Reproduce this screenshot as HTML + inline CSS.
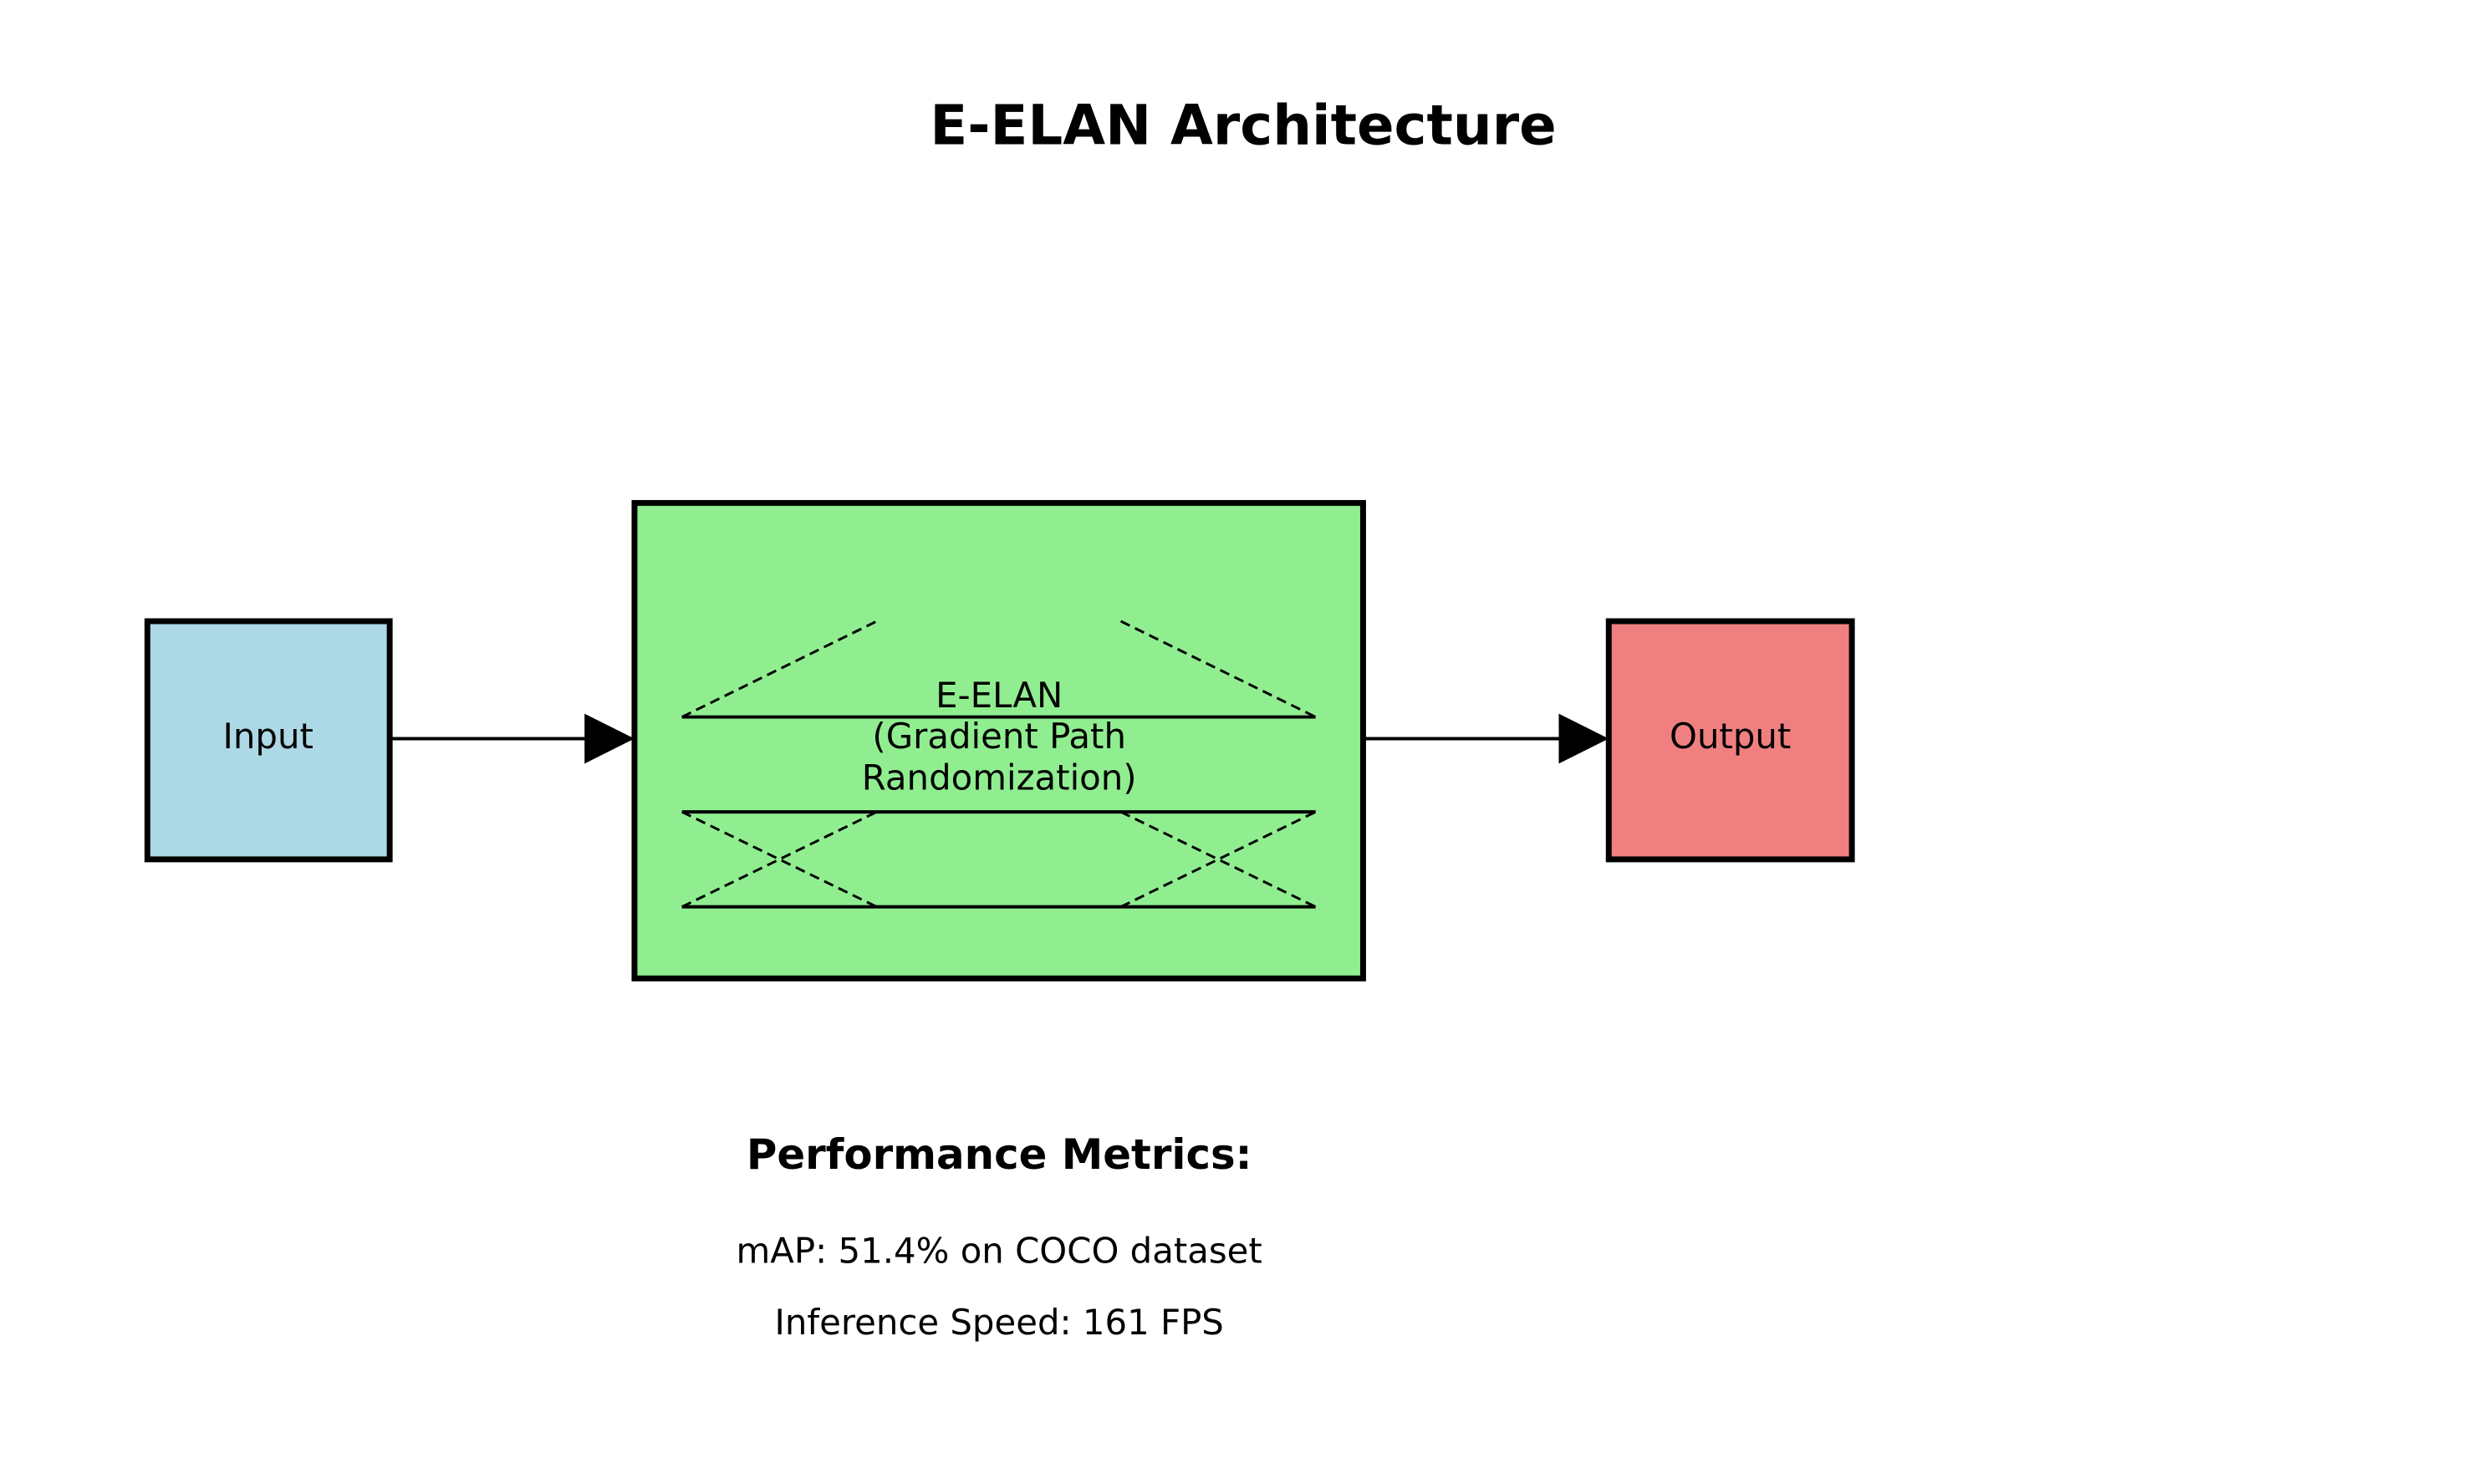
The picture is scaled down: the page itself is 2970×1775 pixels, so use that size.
<!DOCTYPE html>
<html><head><meta charset="utf-8"><style>html,body{margin:0;padding:0;background:#fff}</style></head>
<body>
<svg width="2970" height="1770" viewBox="0 0 2970 1770" xmlns="http://www.w3.org/2000/svg" font-family="DejaVu Sans, sans-serif">
<g transform="scale(0.996)">
<text x="1493" y="155" font-size="66" font-weight="bold" text-anchor="middle" dominant-baseline="middle">E-ELAN Architecture</text>
<rect x="177" y="746" width="291" height="286" fill="#add8e6" stroke="#000" stroke-width="7"/>
<text x="322" y="887" font-size="42" text-anchor="middle" dominant-baseline="middle">Input</text>
<rect x="762" y="604" width="875" height="571" fill="#90ee90" stroke="#000" stroke-width="7"/>
<rect x="1932" y="746" width="292" height="286" fill="#f08080" stroke="#000" stroke-width="7"/>
<text x="2078" y="887" font-size="42" text-anchor="middle" dominant-baseline="middle">Output</text>
<line x1="468" y1="887" x2="705" y2="887" stroke="#000" stroke-width="4"/>
<polygon points="702,857 762,887 702,917" fill="#000"/>
<line x1="1637" y1="887" x2="1875" y2="887" stroke="#000" stroke-width="4"/>
<polygon points="1872,857 1932,887 1872,917" fill="#000"/>
<g stroke="#000" stroke-width="4">
<line x1="819" y1="861" x2="1580" y2="861"/>
<line x1="819" y1="975" x2="1580" y2="975"/>
<line x1="819" y1="1089" x2="1580" y2="1089"/>
</g>
<g stroke="#000" stroke-width="3" stroke-dasharray="12,7" fill="none">
<line x1="819" y1="861" x2="1053" y2="746"/>
<line x1="1346" y1="746" x2="1580" y2="861"/>
<line x1="819" y1="975" x2="1053" y2="1089"/>
<line x1="819" y1="1089" x2="1053" y2="975"/>
<line x1="1346" y1="975" x2="1580" y2="1089"/>
<line x1="1346" y1="1089" x2="1580" y2="975"/>
</g>
<g font-size="42" text-anchor="middle" dominant-baseline="middle">
<text x="1200" y="838">E-ELAN</text>
<text x="1200" y="887">(Gradient Path</text>
<text x="1200" y="937">Randomization)</text>
</g>
<text x="1200" y="1390" font-size="50" font-weight="bold" text-anchor="middle" dominant-baseline="middle">Performance Metrics:</text>
<text x="1200" y="1505" font-size="42" text-anchor="middle" dominant-baseline="middle">mAP: 51.4% on COCO dataset</text>
<text x="1200" y="1591" font-size="42" text-anchor="middle" dominant-baseline="middle">Inference Speed: 161 FPS</text>
</g>
</svg>
</body></html>
